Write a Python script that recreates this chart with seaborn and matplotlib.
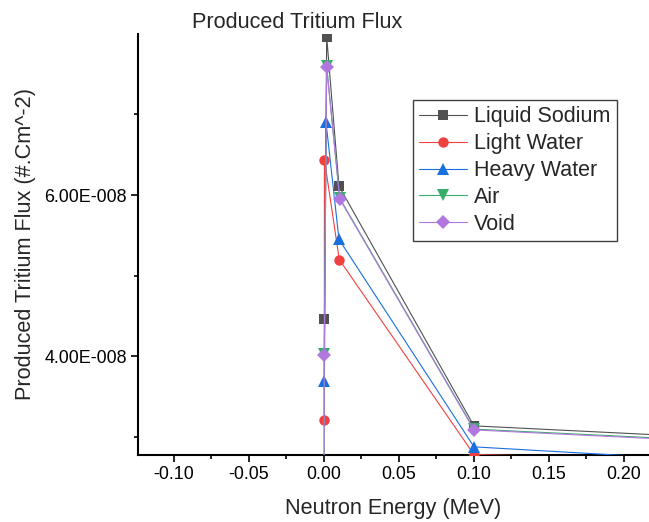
import matplotlib
matplotlib.use("Agg")
import matplotlib.pyplot as plt
import matplotlib.ticker as mticker
import seaborn as sns
import numpy as np

# ---- data ----
series_names = ["Liquid Sodium", "Light Water", "Heavy Water", "Air", "Void"]

sodium_x = [0.0003, 0.0018, 0.01, 0.1, 1.0]
sodium_y = [4.47e-8, 7.96e-8, 6.11e-8, 3.14e-8, 2.32e-8]

light_x = [0.0002, 0.0003, 0.0102, 0.1, 1.0]
light_y = [3.21e-8, 6.44e-8, 5.20e-8, 2.785e-8, 2.40e-8]

heavy_x = [0.0003, 0.0013, 0.01, 0.1, 1.0]
heavy_y = [3.70e-8, 6.91e-8, 5.45e-8, 2.88e-8, 1.92e-8]

air_x = [0.0, 0.0002, 0.0018, 0.0105, 0.1, 1.0]
air_y = [1.50e-8, 4.03e-8, 7.60e-8, 5.96e-8, 3.10e-8, 2.29e-8]

void_x = [0.0, 0.0002, 0.0018, 0.0105, 0.1, 1.0]
void_y = [1.50e-8, 4.02e-8, 7.58e-8, 5.95e-8, 3.09e-8, 2.28e-8]

colors = ["#515151", "#F14040", "#1A6FDF", "#37AD6B", "#B177DE"]
markers = ["s", "o", "^", "v", "D"]
msizes = [6.5, 7.5, 8.5, 8.5, 7.0]

title = "Produced Tritium Flux"
x_label = "Neutron Energy (MeV)"
y_label = "Produced Tritium Flux (#.Cm^-2)"

# ---- style ----
sns.set_style("ticks")
plt.rcParams["font.family"] = ["Liberation Sans", "DejaVu Sans"]

W, H = 649, 522
fig = plt.figure(figsize=(W / 100, H / 100), dpi=100)
ax_left, ax_right, ax_top, ax_bottom = 138, 649, 34, 455
ax = fig.add_axes([ax_left / W, 1 - ax_bottom / H,
                   (ax_right - ax_left) / W, (ax_bottom - ax_top) / H])

xs = [sodium_x, light_x, heavy_x, air_x, void_x]
ys = [sodium_y, light_y, heavy_y, air_y, void_y]
for name, x, y, c, m, ms in zip(series_names, xs, ys, colors, markers, msizes):
    sns.lineplot(x=x, y=y, ax=ax, sort=False, estimator=None, color=c,
                 marker=m, markersize=ms, markeredgewidth=0, linewidth=0.8,
                 label=name, zorder=3)

ax.set_xlim(-0.124, 0.2167)
ax.set_ylim(2.779e-8, 7.995e-8)

ax.xaxis.set_major_locator(mticker.MultipleLocator(0.05))
ax.xaxis.set_minor_locator(mticker.MultipleLocator(0.025))
ax.yaxis.set_major_locator(mticker.MultipleLocator(2e-8))
ax.yaxis.set_minor_locator(mticker.MultipleLocator(1e-8))
ax.xaxis.set_major_formatter(mticker.FuncFormatter(lambda v, p: f"{v:.2f}"))


def sci_fmt(v, p):
    if v == 0:
        return "0"
    e = int(np.floor(np.log10(abs(v))))
    m = v / 10 ** e
    sign = "-" if e < 0 else "+"
    return f"{m:.2f}E{sign}{abs(e):03d}"


ax.yaxis.set_major_formatter(mticker.FuncFormatter(sci_fmt))
ax.yaxis.get_offset_text().set_visible(False)

for s in ["top", "right"]:
    ax.spines[s].set_visible(False)
for s in ["left", "bottom"]:
    ax.spines[s].set_linewidth(1.5)
    ax.spines[s].set_color("black")

ax.tick_params(which="major", length=5, width=1.2, labelsize=12.9, pad=3,
               color="black", labelcolor="black")
ax.tick_params(which="minor", length=3, width=1.2, color="black")

ax.set_xlabel(x_label, fontsize=15.6, labelpad=11)
ax.set_ylabel(y_label, fontsize=15.6, labelpad=6)

fig.text(296.7 / W, 1 - 28 / H, title, ha="center", va="baseline", fontsize=15.6)

leg = ax.legend(loc="upper left",
                bbox_to_anchor=((413 - ax_left) / (ax_right - ax_left),
                                (ax_bottom - 100) / (ax_bottom - ax_top)),
                bbox_transform=ax.transAxes, borderaxespad=0,
                fontsize=15.5, frameon=True, fancybox=False, framealpha=1,
                edgecolor="#404040", borderpad=0.3, labelspacing=0.27,
                handlelength=2.2, handletextpad=0.35)
leg.get_frame().set_linewidth(1.0)

fig.savefig("out.png", dpi=100)
